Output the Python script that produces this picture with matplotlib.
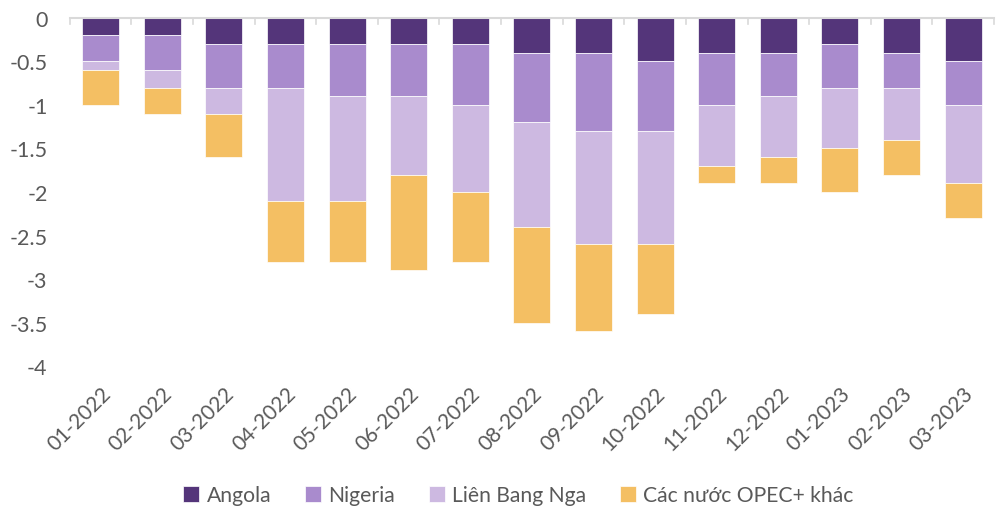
import matplotlib
matplotlib.use('Agg')
import matplotlib.pyplot as plt
import numpy as np

months = ["01-2022", "02-2022", "03-2022", "04-2022", "05-2022", "06-2022", "07-2022",
          "08-2022", "09-2022", "10-2022", "11-2022", "12-2022", "01-2023", "02-2023", "03-2023"]
angola = [-0.2, -0.2, -0.3, -0.3, -0.3, -0.3, -0.3, -0.4, -0.4, -0.5, -0.4, -0.4, -0.3, -0.4, -0.5]
nigeria = [-0.3, -0.4, -0.5, -0.5, -0.6, -0.6, -0.7, -0.8, -0.9, -0.8, -0.6, -0.5, -0.5, -0.4, -0.5]
russia = [-0.1, -0.2, -0.3, -1.3, -1.2, -0.9, -1.0, -1.2, -1.3, -1.3, -0.7, -0.7, -0.7, -0.6, -0.9]
others = [-0.4, -0.3, -0.5, -0.7, -0.7, -1.1, -0.8, -1.1, -1.0, -0.8, -0.2, -0.3, -0.5, -0.4, -0.4]

series = [
    ("Angola", angola, "#54357a"),
    ("Nigeria", nigeria, "#a98bcd"),
    ("Liên Bang Nga", russia, "#cdb9e1"),
    ("Các nước OPEC+ khác", others, "#f4bf63"),
]

plt.rcParams['font.family'] = ['Lato', 'DejaVu Sans']
text_color = "#595959"

fig = plt.figure(figsize=(9.97, 5.10), dpi=100)
ax = fig.add_axes([0.070, 0.280, 0.927, 0.683])

x = np.arange(len(months))
bottom = np.zeros(len(months))
for name, vals, color in series:
    vals = np.array(vals)
    ax.bar(x, vals, 0.6, bottom=bottom, color=color, label=name,
           edgecolor="white", linewidth=0.5)
    bottom += vals

ax.set_xlim(-0.5, len(months) - 0.5)
ax.set_ylim(-4, 0)
ax.set_yticks([0, -0.5, -1, -1.5, -2, -2.5, -3, -3.5, -4])
ax.set_yticklabels(["0", "-0.5", "-1", "-1.5", "-2", "-2.5", "-3", "-3.5", "-4"])
ax.tick_params(axis="y", length=0, pad=16, labelsize=15.5, labelcolor=text_color)

# month labels sit under the bars, tick marks between categories on the zero line
ax.set_xticks(x)
ax.set_xticklabels(months, rotation=45, ha="right", rotation_mode="anchor")
ax.tick_params(axis="x", length=0, labelsize=15, labelcolor=text_color, pad=12)
for b in np.arange(-0.5, len(months), 1.0):
    ax.plot([b, b], [0, -0.07], color="#d9d9d9", lw=1.2, clip_on=False, zorder=3)

for side in ["right", "left", "bottom"]:
    ax.spines[side].set_visible(False)
ax.spines["top"].set_color("#d9d9d9")
ax.spines["top"].set_linewidth(1.5)

leg = fig.legend(loc="lower center", ncol=4, frameon=False, fontsize=15.2,
                 bbox_to_anchor=(0.52, -0.03), handlelength=0.75, handleheight=0.75,
                 handletextpad=0.35, columnspacing=1.6)
for t in leg.get_texts():
    t.set_color(text_color)

fig.savefig("out.png", dpi=100)
plt.close(fig)
